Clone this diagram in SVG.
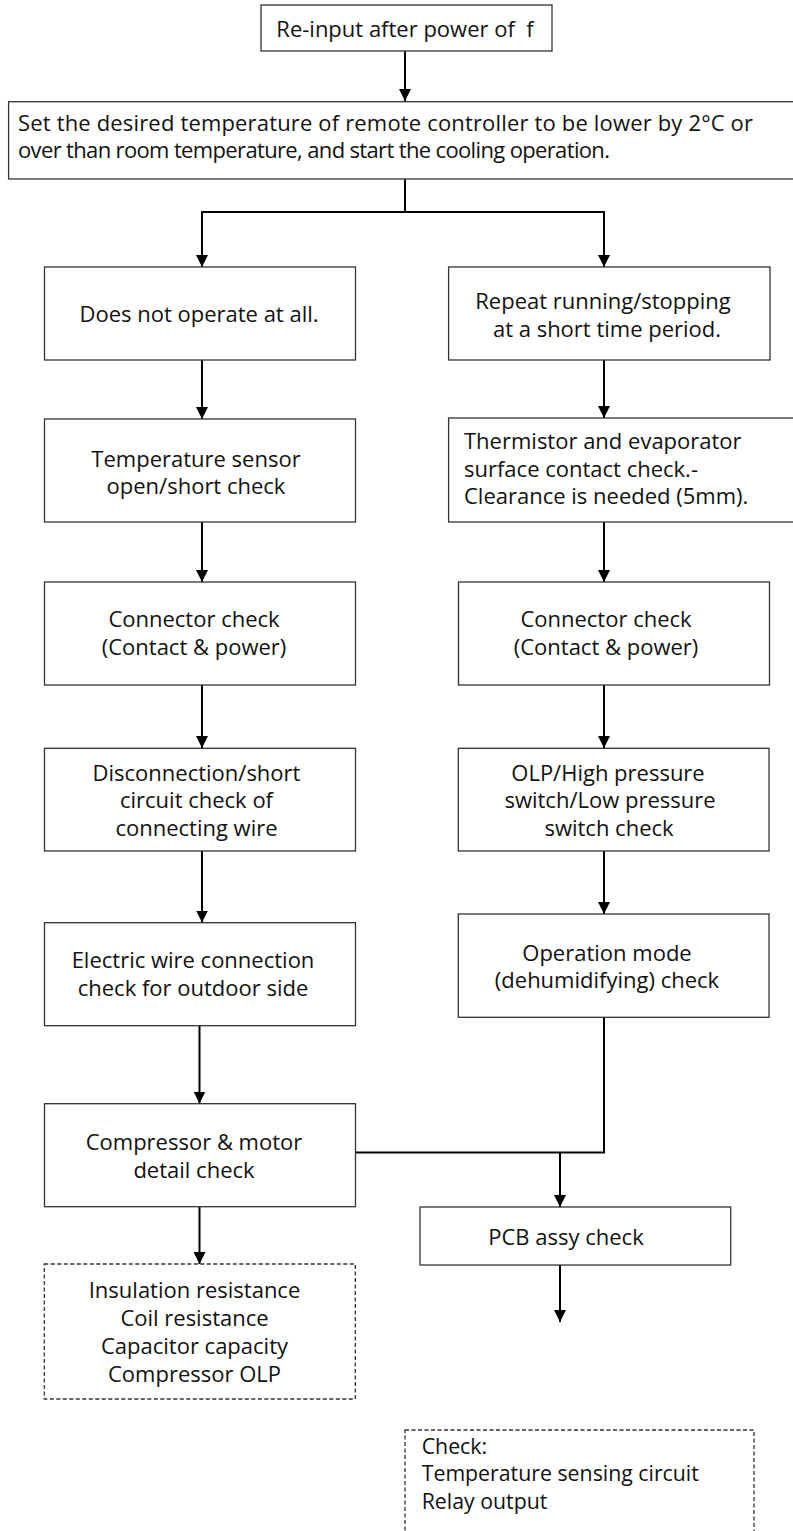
<svg xmlns="http://www.w3.org/2000/svg" width="793" height="1531" viewBox="0 0 793 1531">
<style>
  .box { fill: #fff; stroke: #333; stroke-width: 1.3; }
  .dash { fill: #fff; stroke: #333; stroke-width: 1.3; stroke-dasharray: 4 2.5; }
  .t { font-family: "Open Sans", "Liberation Sans", sans-serif; font-size: 22px; fill: #111; }
  .s { font-size: 21.3px; }
  .c { text-anchor: middle; }
  .conn { fill: none; stroke: #000; stroke-width: 2; }
</style>
<defs>
  <marker id="ah" markerUnits="userSpaceOnUse" markerWidth="12" markerHeight="12" refX="12" refY="6" orient="auto">
    <path d="M0,0 L12,6 L0,12 z" fill="#000"/>
  </marker>
</defs>
<rect width="793" height="1531" fill="#fff"/>

<g id="connectors">
  <path class="conn" d="M405,51 V101" marker-end="url(#ah)"/>
  <path class="conn" d="M405,179 V212"/>
  <path class="conn" d="M405,212 H202 V267" marker-end="url(#ah)"/>
  <path class="conn" d="M405,212 H604 V267" marker-end="url(#ah)"/>
  <path class="conn" d="M202,360 V419" marker-end="url(#ah)"/>
  <path class="conn" d="M604,360 V418" marker-end="url(#ah)"/>
  <path class="conn" d="M202,522 V582" marker-end="url(#ah)"/>
  <path class="conn" d="M604,522 V582" marker-end="url(#ah)"/>
  <path class="conn" d="M202,685 V748" marker-end="url(#ah)"/>
  <path class="conn" d="M604,685 V748" marker-end="url(#ah)"/>
  <path class="conn" d="M202,851 V922.5" marker-end="url(#ah)"/>
  <path class="conn" d="M604,851 V914" marker-end="url(#ah)"/>
  <path class="conn" d="M199.5,1025.7 V1103.5" marker-end="url(#ah)"/>
  <path class="conn" d="M604,1017 V1152.5 H355.5"/>
  <path class="conn" d="M560,1152.5 V1207" marker-end="url(#ah)"/>
  <path class="conn" d="M560,1265 V1322" marker-end="url(#ah)"/>
  <path class="conn" d="M199.5,1206.7 V1264" marker-end="url(#ah)"/>
</g>

<g id="n-reinput">
  <rect class="box" x="261" y="5" width="291" height="46"/>
  <text class="t c" x="405" y="36.5" xml:space="preserve">Re-input after power of  f</text>
</g>

<g id="n-set">
  <rect class="box" x="8.6" y="101.7" width="800" height="77.3"/>
  <text class="t" x="18" y="131" textLength="735" lengthAdjust="spacing">Set the desired temperature of remote controller to be lower by 2°C or</text>
  <text class="t" x="18" y="158" textLength="592" lengthAdjust="spacing">over than room temperature, and start the cooling operation.</text>
</g>

<g id="n-noop">
  <rect class="box" x="44.5" y="267" width="311" height="93"/>
  <text class="t c" x="199" y="321.5">Does not operate at all.</text>
</g>

<g id="n-repeat">
  <rect class="box" x="448.6" y="267" width="321.4" height="93"/>
  <text class="t c" x="603" y="308.5">Repeat running/stopping</text>
  <text class="t c" x="607" y="336.5">at a short time period.</text>
</g>

<g id="n-tempsensor">
  <rect class="box" x="44.5" y="419" width="311" height="103"/>
  <text class="t c" x="196" y="467">Temperature sensor</text>
  <text class="t c" x="196" y="494">open/short check</text>
</g>

<g id="n-thermistor">
  <rect class="box" x="448.6" y="418" width="360" height="104"/>
  <text class="t" x="464" y="448.5">Thermistor and evaporator</text>
  <text class="t" x="464" y="476.5">surface contact check.-</text>
  <text class="t" x="464" y="504">Clearance is needed (5mm).</text>
</g>

<g id="n-conn-left">
  <rect class="box" x="44.5" y="582" width="311" height="103"/>
  <text class="t c" x="194" y="627">Connector check</text>
  <text class="t c" x="194" y="655">(Contact &amp; power)</text>
</g>

<g id="n-conn-right">
  <rect class="box" x="458.5" y="582" width="311" height="103"/>
  <text class="t c" x="606" y="627">Connector check</text>
  <text class="t c" x="606" y="655">(Contact &amp; power)</text>
</g>

<g id="n-disconnect">
  <rect class="box" x="44.5" y="748.3" width="311" height="102.7"/>
  <text class="t c" x="196.5" y="780.5">Disconnection/short</text>
  <text class="t c" x="196.5" y="808.3">circuit check of</text>
  <text class="t c" x="196.5" y="836">connecting wire</text>
</g>

<g id="n-olp">
  <rect class="box" x="458.3" y="748.3" width="310.7" height="102.7"/>
  <text class="t c" x="608" y="780.5">OLP/High pressure</text>
  <text class="t c" x="610" y="808.3">switch/Low pressure</text>
  <text class="t c" x="609" y="836">switch check</text>
</g>

<g id="n-electric">
  <rect class="box" x="44.5" y="922.7" width="311" height="103"/>
  <text class="t c" x="193" y="968">Electric wire connection</text>
  <text class="t c" x="193" y="996">check for outdoor side</text>
</g>

<g id="n-opmode">
  <rect class="box" x="458.3" y="914" width="310.7" height="103.3"/>
  <text class="t c" x="607" y="961">Operation mode</text>
  <text class="t c" x="607" y="988">(dehumidifying) check</text>
</g>

<g id="n-compressor">
  <rect class="box" x="44.5" y="1103.7" width="311" height="103"/>
  <text class="t c" x="194" y="1150">Compressor &amp; motor</text>
  <text class="t c" x="194" y="1177.7">detail check</text>
</g>

<g id="n-pcb">
  <rect class="box" x="420" y="1207" width="310.7" height="58"/>
  <text class="t c" x="566" y="1245">PCB assy check</text>
</g>

<g id="n-compdetail">
  <rect class="dash" x="44.3" y="1264" width="311" height="135"/>
  <text class="t c" x="194.5" y="1298.3">Insulation resistance</text>
  <text class="t c" x="194.5" y="1326">Coil resistance</text>
  <text class="t c" x="194.5" y="1354">Capacitor capacity</text>
  <text class="t c" x="194.5" y="1381.5">Compressor OLP</text>
</g>

<g id="n-check">
  <rect class="dash" x="405" y="1430" width="349" height="140"/>
  <text class="t s" x="421.7" y="1453.5">Check:</text>
  <text class="t s" x="421.7" y="1481.3">Temperature sensing circuit</text>
  <text class="t s" x="421.7" y="1509.3">Relay output</text>
</g>
</svg>
